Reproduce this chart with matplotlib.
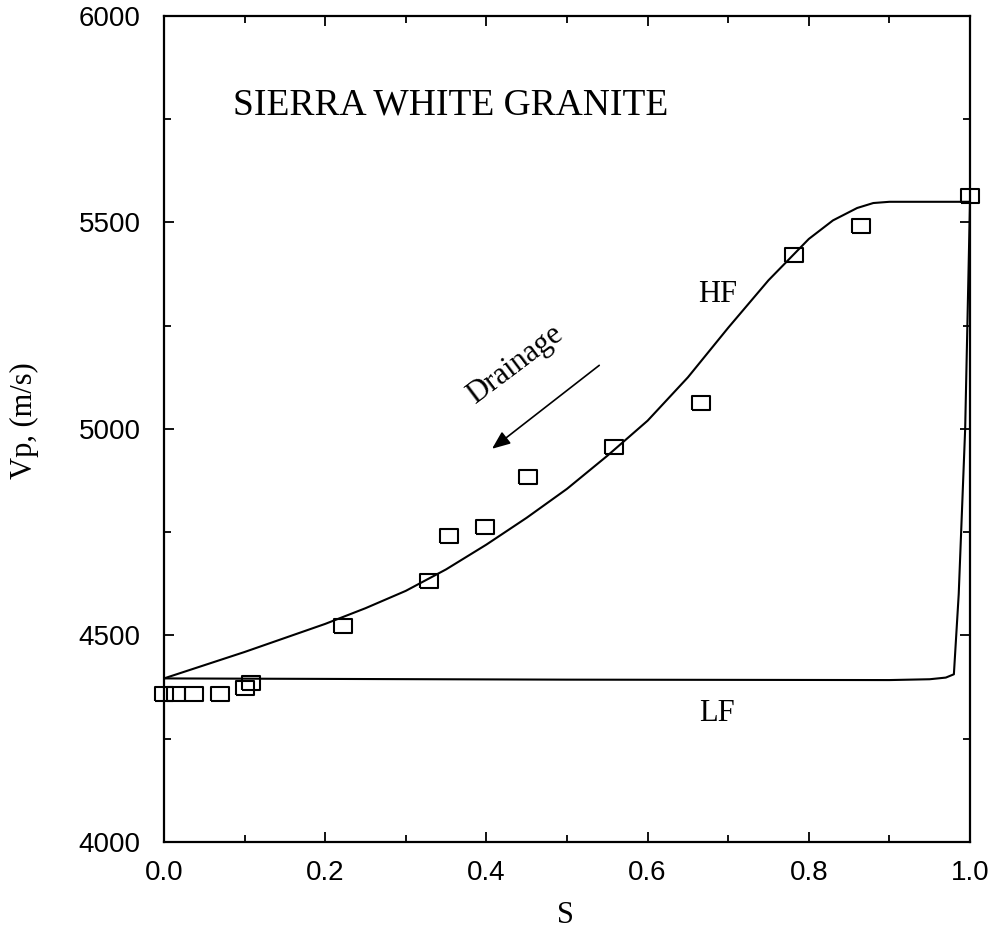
import numpy as np
import matplotlib.pyplot as plt
from matplotlib.ticker import MultipleLocator

# Saturation S and P-wave velocity (m/s), measured points
s_meas = [0.0, 0.015, 0.037, 0.07, 0.10, 0.108, 0.222, 0.329, 0.353, 0.398,
          0.451, 0.558, 0.666, 0.782, 0.865, 1.0]
vp_meas = [4358, 4358, 4358, 4358, 4374, 4386, 4523, 4633, 4742, 4763,
           4883, 4956, 5063, 5422, 5492, 5563]

# High-frequency model curve
s_hf = [0.0, 0.05, 0.1, 0.15, 0.2, 0.25, 0.3, 0.35, 0.4, 0.45, 0.5, 0.55,
        0.6, 0.65, 0.7, 0.75, 0.8, 0.83, 0.86, 0.88, 0.9, 1.0]
vp_hf = [4396, 4428, 4460, 4494, 4528, 4566, 4608, 4660, 4720, 4785, 4855,
         4935, 5020, 5125, 5245, 5360, 5460, 5505, 5535, 5547, 5550, 5550]

# Low-frequency model curve
s_lf = [0.0, 0.5, 0.9, 0.95, 0.97, 0.98, 0.986, 0.994, 1.0]
vp_lf = [4396, 4393, 4392, 4394, 4398, 4406, 4600, 5000, 5550]

serif = 'Liberation Serif'
sans = 'Liberation Sans'

fig = plt.figure(figsize=(9.92, 9.32), dpi=100)
ax = fig.add_axes([164 / 992, 0.0966, 806 / 992, 0.8863])

ax.plot(s_hf, vp_hf, color='black', lw=1.5)
ax.plot(s_lf, vp_lf, color='black', lw=1.5)

# rectangular open markers, a bit wider than tall
rect = [(-1, -0.75), (1, -0.75), (1, 0.75), (-1, 0.75), (-1, -0.75)]
ax.plot(s_meas, vp_meas, ls='none', marker=rect, ms=12.5, mfc='none',
        mec='black', mew=1.5, clip_on=False, zorder=3)

ax.set_xlim(0, 1.0)
ax.set_ylim(4000, 6000)
ax.xaxis.set_major_locator(MultipleLocator(0.2))
ax.xaxis.set_minor_locator(MultipleLocator(0.1))
ax.yaxis.set_major_locator(MultipleLocator(500))
ax.yaxis.set_minor_locator(MultipleLocator(250))
ax.tick_params(which='both', direction='in', top=True, right=True, width=1.3)
ax.tick_params(which='major', length=7)
ax.tick_params(which='minor', length=5)
ax.tick_params(axis='y', pad=17)
ax.tick_params(axis='x', pad=13)
for lab in ax.get_xticklabels() + ax.get_yticklabels():
    lab.set_fontfamily(sans)
    lab.set_fontsize(20)
for sp in ax.spines.values():
    sp.set_linewidth(1.6)

ax.text(0.085, 5783, 'SIERRA WHITE GRANITE', family=serif, fontsize=27,
        ha='left', va='center')
ax.text(0.687, 5325, 'HF', family=serif, fontsize=22, ha='center', va='center')
ax.text(0.686, 4312, 'LF', family=serif, fontsize=22, ha='center', va='center')
ax.text(0.436, 5156, 'Drainage', family=serif, fontsize=22, rotation=37,
        ha='center', va='center', rotation_mode='anchor')
ax.annotate('', xy=(0.407, 4952), xytext=(0.540, 5154),
            arrowprops=dict(arrowstyle='-|>,head_length=1.1,head_width=0.45',
                            color='black', lw=1.2, shrinkA=0, shrinkB=0))

fig.text(0.025, 0.549, 'Vp, (m/s)', family=serif, fontsize=22, rotation=90,
         ha='center', va='center')
fig.text(0.57, 0.018, 'S', family=serif, fontsize=22, ha='center', va='center')

fig.savefig('out.png', dpi=100)
